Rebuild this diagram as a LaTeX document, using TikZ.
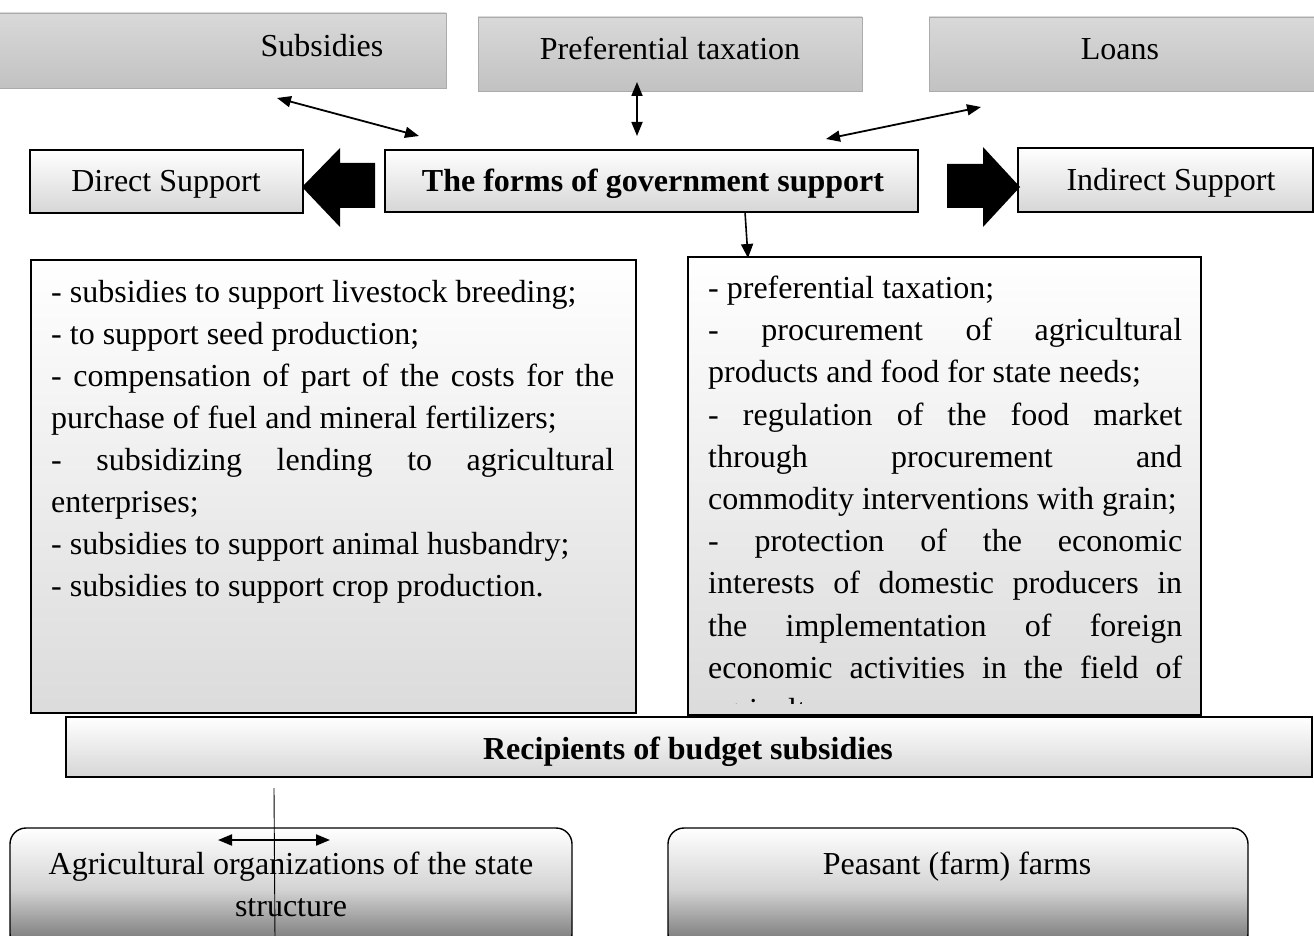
\documentclass[tikz,border=0pt]{standalone}
\usepackage{fontspec}
\setmainfont{Liberation Serif}
\usetikzlibrary{arrows.meta}
\begin{document}
\begin{tikzpicture}[x=1pt,y=-1pt,
  graybox/.style={draw=black!33, line width=0.9pt, top color=black!15, bottom color=black!24, inner sep=0},
  whitebox/.style={draw=black, line width=1.4pt, top color=white, bottom color=black!16, inner sep=0},
  listbox/.style={draw=black, line width=1.4pt, top color=white, bottom color=black!14, inner sep=0},
  roundbox/.style={draw=black, line width=1.4pt, rounded corners=16pt, top color=white, bottom color=black!58, middle color=black!17, inner sep=0},
  lbl/.style={inner sep=0, anchor=base, font=\fontsize{32}{38}\selectfont},
  rowtext/.style={inner sep=0, anchor=base west, font=\fontsize{32}{38}\selectfont},
  dblarrow/.style={line width=1.8pt, {Triangle[length=14pt,width=11pt]}-{Triangle[length=14pt,width=11pt]}},
  onearrow/.style={line width=1.6pt, -{Triangle[length=14pt,width=12pt]}}
]
\useasboundingbox (0,0) rectangle (1314,936);
\clip (0,0) rectangle (1314,936);

% top grey boxes
\node[graybox, minimum width=448pt, minimum height=75pt] (subsbox) at (222,50.5) {};
\node[lbl] (subs) at (322,57) {Subsidies};
\node[graybox, minimum width=384pt, minimum height=74pt] (prefbox) at (670,54) {};
\node[lbl] (pref) at (670,60) {Preferential taxation};
\node[graybox, minimum width=387pt, minimum height=74pt] (loanbox) at (1122.5,54) {};
\node[lbl] (loans) at (1120,60) {Loans};

% second row
\node[whitebox, minimum width=273pt, minimum height=63pt] (direct) at (166.5,181.5) {};
\node[lbl] (directt) at (166,192) {Direct Support};
\node[whitebox, minimum width=533pt, minimum height=62pt] (forms) at (651.5,181) {};
\node[lbl, font=\fontsize{32}{38}\selectfont\bfseries] (formst) at (653,192) {The forms of government support};
\node[whitebox, minimum width=295pt, minimum height=64pt] (indirect) at (1165.5,180) {};
\node[lbl] (indirectt) at (1171,191) {Indirect Support};

% block arrows
\fill (375,163) -- (340,163) -- (340,148) -- (302,187) -- (340,227) -- (340,208) -- (375,208) -- cycle;
\fill (947,164) -- (983,164) -- (983,147) -- (1020,187) -- (983,227) -- (983,208) -- (947,208) -- cycle;

% thin connectors
\coordinate (sa1) at (277,98);
\coordinate (sa2) at (419,136);
\coordinate (pa1) at (637,82);
\coordinate (pa2) at (637,136);
\coordinate (la1) at (826,139);
\coordinate (la2) at (981,107);
\draw[dblarrow] (sa1) -- (sa2);
\draw[dblarrow] (pa1) -- (pa2);
\draw[dblarrow] (la1) -- (la2);
\coordinate (d1) at (745,212);
\coordinate (d2) at (748,258);
\draw[onearrow] (d1) -- (d2);

% list boxes
\node[listbox, minimum width=605pt, minimum height=453pt] (leftlist) at (333.5,486.5) {};
\node[listbox, minimum width=513pt, minimum height=458pt] (rightlist) at (944.5,486) {};

\foreach \t [count=\i] in {
  {- subsidies to support livestock breeding;},
  {- to support seed production;},
  {\makebox[563pt][s]{- compensation of part of the costs for the}},
  {purchase of fuel and mineral fertilizers;},
  {\makebox[563pt][s]{- subsidizing lending to agricultural}},
  {enterprises;},
  {- subsidies to support animal husbandry;},
  {- subsidies to support crop production.}}
  \node[rowtext] (L\i) at (51,{302+42*(\i-1)}) {\t};

\begin{scope}
\clip (689,258) rectangle (1200,703);
\foreach \t [count=\i] in {
  {- preferential taxation;},
  {\makebox[474pt][s]{- procurement of agricultural}},
  {products and food for state needs;},
  {\makebox[474pt][s]{- regulation of the food market}},
  {\makebox[474pt][s]{through procurement and}},
  {commodity interventions with grain;},
  {\makebox[474pt][s]{- protection of the economic}},
  {\makebox[474pt][s]{interests of domestic producers in}},
  {\makebox[474pt][s]{the implementation of foreign}},
  {\makebox[474pt][s]{economic activities in the field of}},
  {agriculture.}}
  \node[rowtext] (R\i) at (708,{298.5+42.2*(\i-1)}) {\t};
\end{scope}

% recipients
\node[whitebox, minimum width=1246pt, minimum height=60pt] (recip) at (689,747) {};
\node[lbl, font=\fontsize{32}{38}\selectfont\bfseries] (recipt) at (688,759) {Recipients of budget subsidies};

% bottom rounded boxes
\node[roundbox, minimum width=562pt, minimum height=122pt] (agri) at (291,889) {};
\node[lbl] (agrit1) at (291,874) {Agricultural organizations of the state};
\node[lbl] (agrit2) at (291,916) {structure};
\node[roundbox, minimum width=580pt, minimum height=122pt] (peas) at (958,889) {};
\node[lbl] (peast) at (957,874) {Peasant (farm) farms};

\coordinate (v1) at (274,788);
\coordinate (v2) at (275,940);
\draw[line width=0.9pt] (v1) -- (v2);
\coordinate (h1) at (218,840);
\coordinate (h2) at (330,840);
\draw[dblarrow, line width=2pt] (h1) -- (h2);
\end{tikzpicture}
\end{document}
